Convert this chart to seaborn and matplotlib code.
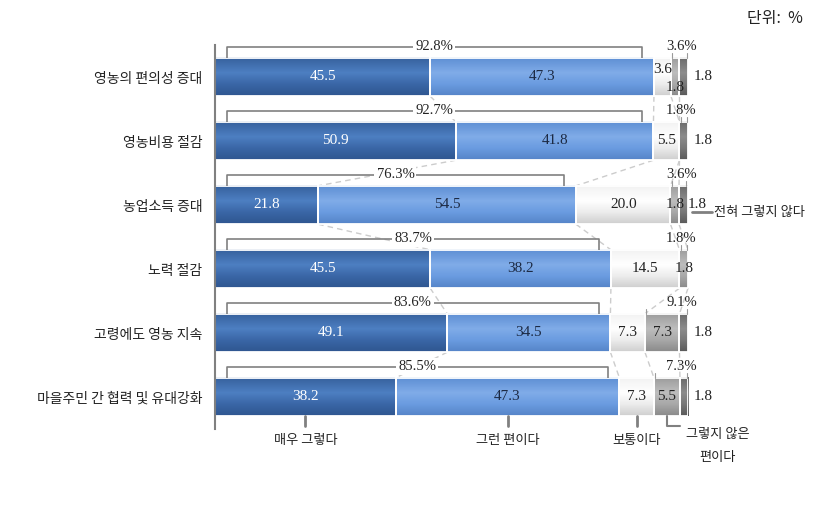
import numpy as np
import pandas as pd
import matplotlib
matplotlib.use("Agg")
import matplotlib.pyplot as plt
import seaborn as sns
from matplotlib.colors import LinearSegmentedColormap

# ---------------- data ----------------
categories = ["영농의 편의성 증대", "영농비용 절감", "농업소득 증대", "노력 절감",
              "고령에도 영농 지속", "마을주민 간 협력 및 유대강화"]
series_names = ["매우 그렇다", "그런 편이다", "보통이다", "그렇지 않은 편이다", "전혀 그렇지 않다"]
very_agree = [45.5, 50.9, 21.8, 45.5, 49.1, 38.2]
agree = [47.3, 41.8, 54.5, 38.2, 34.5, 47.3]
neutral = [3.6, 5.5, 20.0, 14.5, 7.3, 7.3]
disagree = [1.8, 0.0, 1.8, 1.8, 7.3, 5.5]
strongly_disagree = [1.8, 1.8, 1.8, 0.0, 1.8, 1.8]
unit_label = "단위:  %"

# ---------------- style ----------------
sns.set_theme(style="white")
plt.rcParams['font.family'] = ['Noto Sans CJK KR', 'DejaVu Sans']
NUM_FONT = ['Liberation Serif', 'DejaVu Serif']
LINE_GREY = "#808080"

gradients = [
    ["#36609c", "#4d7fc2", "#3a66a6", "#2f5690"],
    ["#5d8ed3", "#80ace8", "#6a9be0", "#5584c8"],
    ["#f2f2f2", "#ffffff", "#ececec", "#cfcfcf"],
    ["#9c9c9c", "#bdbdbd", "#a8a8a8", "#8a8a8a"],
    ["#6a6a6a", "#8c8c8c", "#777777", "#5a5a5a"],
]
text_colors = ["white", "#1c2a44", "#222222", "#222222", "#222222"]

fig = plt.figure(figsize=(8.35, 5.05), dpi=100)
ax = fig.add_axes([215 / 835, 1 - 429 / 505, 473 / 835, 384 / 505])

vals = np.array([very_agree, agree, neutral, disagree, strongly_disagree])
cum = np.cumsum(vals, axis=0)
lefts = np.vstack([np.zeros(len(categories)), cum[:-1]])
H = 0.6
n = len(categories)

df = pd.DataFrame({"category": categories})
for k in range(5):
    df["value"] = vals[k]
    sns.barplot(data=df, x="value", y="category", order=categories, orient="h",
                left=lefts[k], width=H, color=gradients[k][1], saturation=1,
                edgecolor="white", linewidth=1.3, errorbar=None, ax=ax)
    cmap = LinearSegmentedColormap.from_list(f"g{k}", list(zip([0, 0.4, 0.7, 1.0], gradients[k])))
    grad = np.linspace(0, 1, 64)[:, None]
    for rect in ax.containers[-1]:
        x0, y0, w, h = rect.get_x(), rect.get_y(), rect.get_width(), rect.get_height()
        if w <= 0:
            rect.set_visible(False)
            continue
        ax.imshow(grad, cmap=cmap, extent=(x0, x0 + w, y0 + h, y0), aspect="auto",
                  interpolation="bilinear", zorder=1)
        rect.set_facecolor("none")
        rect.set_zorder(1.5)

ax.set_xlim(0, 100)
ax.set_ylim(n - 0.5, -0.5)
ax.set_xlabel("")
ax.set_ylabel("")
ax.set_xticks([])
ax.tick_params(axis="y", length=0, pad=9, labelsize=10, labelcolor="#222222")
for s in ["top", "right", "bottom"]:
    ax.spines[s].set_visible(False)
ax.spines["left"].set_color(LINE_GREY)
ax.spines["left"].set_linewidth(1.5)
ax.spines["left"].set_zorder(3)

# ---------------- value labels ----------------
special = {(0, 2): (0.0, -0.12), (0, 3): (0.0, 0.17)}
for i in range(n):
    for k in range(5):
        v = vals[k][i]
        if v <= 0:
            continue
        if k == 4:
            x = 101.9 if i == 2 else 103.2
            ax.text(x, i, f"{v:.1f}", ha="center", va="center", fontsize=11,
                    family=NUM_FONT, color="#222222", clip_on=False)
            continue
        dx, dy = special.get((i, k), (0.0, 0.0))
        ax.text(lefts[k][i] + v / 2 + dx, i + dy, f"{v:.1f}", ha="center", va="center",
                fontsize=11, family=NUM_FONT, color=text_colors[k], zorder=4)

# ---------------- brackets ----------------
for i in range(n):
    y_top = i - H / 2
    yb = y_top - 0.17
    agree_tot = very_agree[i] + agree[i]
    xr = agree_tot - 2.5
    ax.plot([2.5, 2.5, xr, xr], [y_top, yb, yb, y_top], color=LINE_GREY, lw=1.2,
            clip_on=False, zorder=2, solid_capstyle="butt")
    ax.text((2.5 + xr) / 2, yb, f"{agree_tot:.1f}%", ha="center", va="center",
            fontsize=10.5, family=NUM_FONT, color="#222222", zorder=5, clip_on=False,
            bbox=dict(facecolor="white", edgecolor="none", pad=1.5))
    dis_tot = disagree[i] + strongly_disagree[i]
    xa = lefts[3][i] + 0.3
    xb = cum[4][i] - 0.3
    for xx in (xa, xb):
        ax.plot([xx, xx], [yb + 0.1, y_top], color="#9a9a9a", lw=0.8, clip_on=False, zorder=2)
    ax.text(98.6, yb, f"{dis_tot:.1f}%", ha="center", va="center", fontsize=10.5,
            family=NUM_FONT, color="#222222", clip_on=False, zorder=5)

# ---------------- dashed series lines ----------------
for i in range(n - 1):
    for k in range(4):
        ax.plot([cum[k][i], cum[k][i + 1]], [i + H / 2, i + 1 - H / 2], color="#cccccc",
                lw=1.0, ls=(0, (4, 3)), zorder=0.5, clip_on=False)

# ---------------- legend-like labels ----------------
last = n - 1
yb0 = last + H / 2
for k in range(3):
    xm = lefts[k][last] + vals[k][last] / 2
    ax.plot([xm, xm], [yb0, yb0 + 0.15], color=LINE_GREY, lw=2, clip_on=False)
    ax.text(xm, last + 0.68, series_names[k], ha="center", va="center", fontsize=9.5,
            color="#222222", clip_on=False)

xm = lefts[3][last] + vals[3][last] / 2
ax.plot([xm, xm, xm + 2.7], [yb0, yb0 + 0.15, yb0 + 0.15], color=LINE_GREY, lw=1.5,
        clip_on=False)
ax.text(106.3, last + 0.59, "그렇지 않은", ha="center", va="center", fontsize=9.5,
        color="#222222", clip_on=False)
ax.text(106.3, last + 0.94, "편이다", ha="center", va="center", fontsize=9.5,
        color="#222222", clip_on=False)

ax.plot([100.8, 105.1], [2.11, 2.11], color=LINE_GREY, lw=2, clip_on=False)
ax.text(105.5, 2.11, series_names[4], ha="left", va="center", fontsize=9.5,
        color="#222222", clip_on=False)

fig.text(775 / 835, 1 - 18 / 505, unit_label, ha="center", va="center", fontsize=11.5,
         color="#222222")

fig.savefig("out.png", dpi=100)
